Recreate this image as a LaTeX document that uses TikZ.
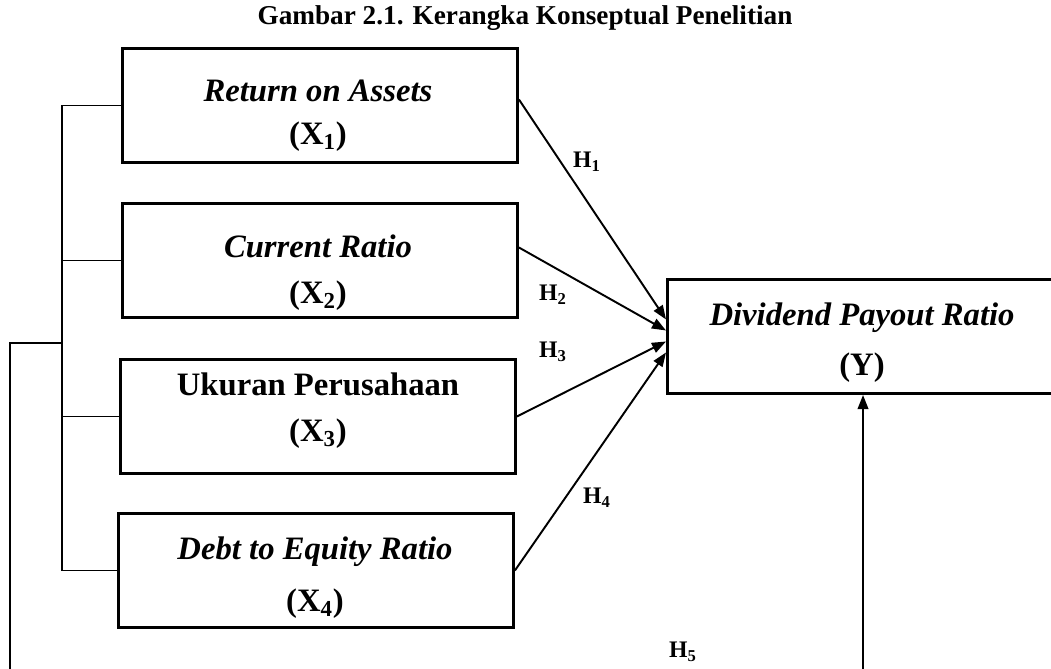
\documentclass[tikz,border=0pt]{standalone}
\usepackage{fontspec}
\setmainfont{Liberation Serif}
\usetikzlibrary{arrows.meta,calc}

\begin{document}
\begin{tikzpicture}[x=0.02cm, y=-0.02cm,
    varbox/.style={draw, line width=1.7pt, anchor=north west, minimum width=7.9cm, minimum height=2.28cm, inner sep=0pt},
    vartext/.style={font=\fontsize{18.6}{22}\selectfont\bfseries, inner sep=0pt},
    hyp/.style={font=\fontsize{13.5}{16}\selectfont\bfseries, inner sep=0pt},
    link/.style={line width=1.1pt, -{Triangle[length=8pt,width=6pt]}},
    tree/.style={line width=0.8pt}]
    \useasboundingbox (0,0) rectangle (1051,669);

    \node[font=\fontsize{15.5}{18}\selectfont\bfseries] (title) at (525,18) {Gambar 2.1. Kerangka Konseptual Penelitian};

    % Independent variables
    \node[varbox] (roa) at (121,47) {};
    \node[varbox] (cr) at (121,202) {};
    \node[varbox] (size) at (119,358) {};
    \node[varbox] (der) at (117,512) {};

    \node[vartext] (roa-name) at (318,91) {\textit{Return on Assets}};
    \node[vartext] (roa-x) at (318,137) {(X\textsubscript{1})};
    \node[vartext] (cr-name) at (318,246) {\textit{Current Ratio}};
    \node[vartext] (cr-x) at (318,296) {(X\textsubscript{2})};
    \node[vartext] (size-name) at (318,384) {Ukuran Perusahaan};
    \node[vartext] (size-x) at (318,434) {(X\textsubscript{3})};
    \node[vartext] (der-name) at (315,552) {\textit{Debt to Equity Ratio}};
    \node[vartext] (der-x) at (315,604) {(X\textsubscript{4})};

    % Dependent variable
    \node[varbox, minimum width=8.6cm] (dpr) at (666,278) {};
    \node[vartext] (dpr-name) at (862,318) {\textit{Dividend Payout Ratio}};
    \node[vartext] (dpr-y) at (862,368) {(Y)};

    % Bracket on the left
    \coordinate (trunk) at (62,0);
    \coordinate (join) at (62,343);
    \coordinate (back) at (10,680);
    \draw[tree] (roa.west) -- (roa.west -| trunk) -- (der.west -| trunk) -- (der.west);
    \draw[tree] (cr.west) -- (cr.west -| trunk);
    \draw[tree] (size.west) -- (size.west -| trunk);
    \draw[tree] (join) -| (back);

    % Hypotheses
    \draw[link] ($(roa.east)+(0,-6)$) -- ($(dpr.west)+(0,-17)$);
    \draw[link] ($(cr.east)+(0,-13)$) -- ($(dpr.west)+(0,-6)$);
    \draw[link] (size.east) -- ($(dpr.west)+(0,5)$);
    \draw[link] (der.east) -- ($(dpr.west)+(0,16)$);

    \coordinate (base) at (863,680);
    \draw[link] (base) -- (dpr.south -| base);

    \node[hyp] (h1) at (587,162) {H\textsubscript{1}};
    \node[hyp] (h2) at (553,295) {H\textsubscript{2}};
    \node[hyp] (h3) at (553,352) {H\textsubscript{3}};
    \node[hyp] (h4) at (597,498) {H\textsubscript{4}};
    \node[hyp] (h5) at (683,652) {H\textsubscript{5}};
\end{tikzpicture}
\end{document}
